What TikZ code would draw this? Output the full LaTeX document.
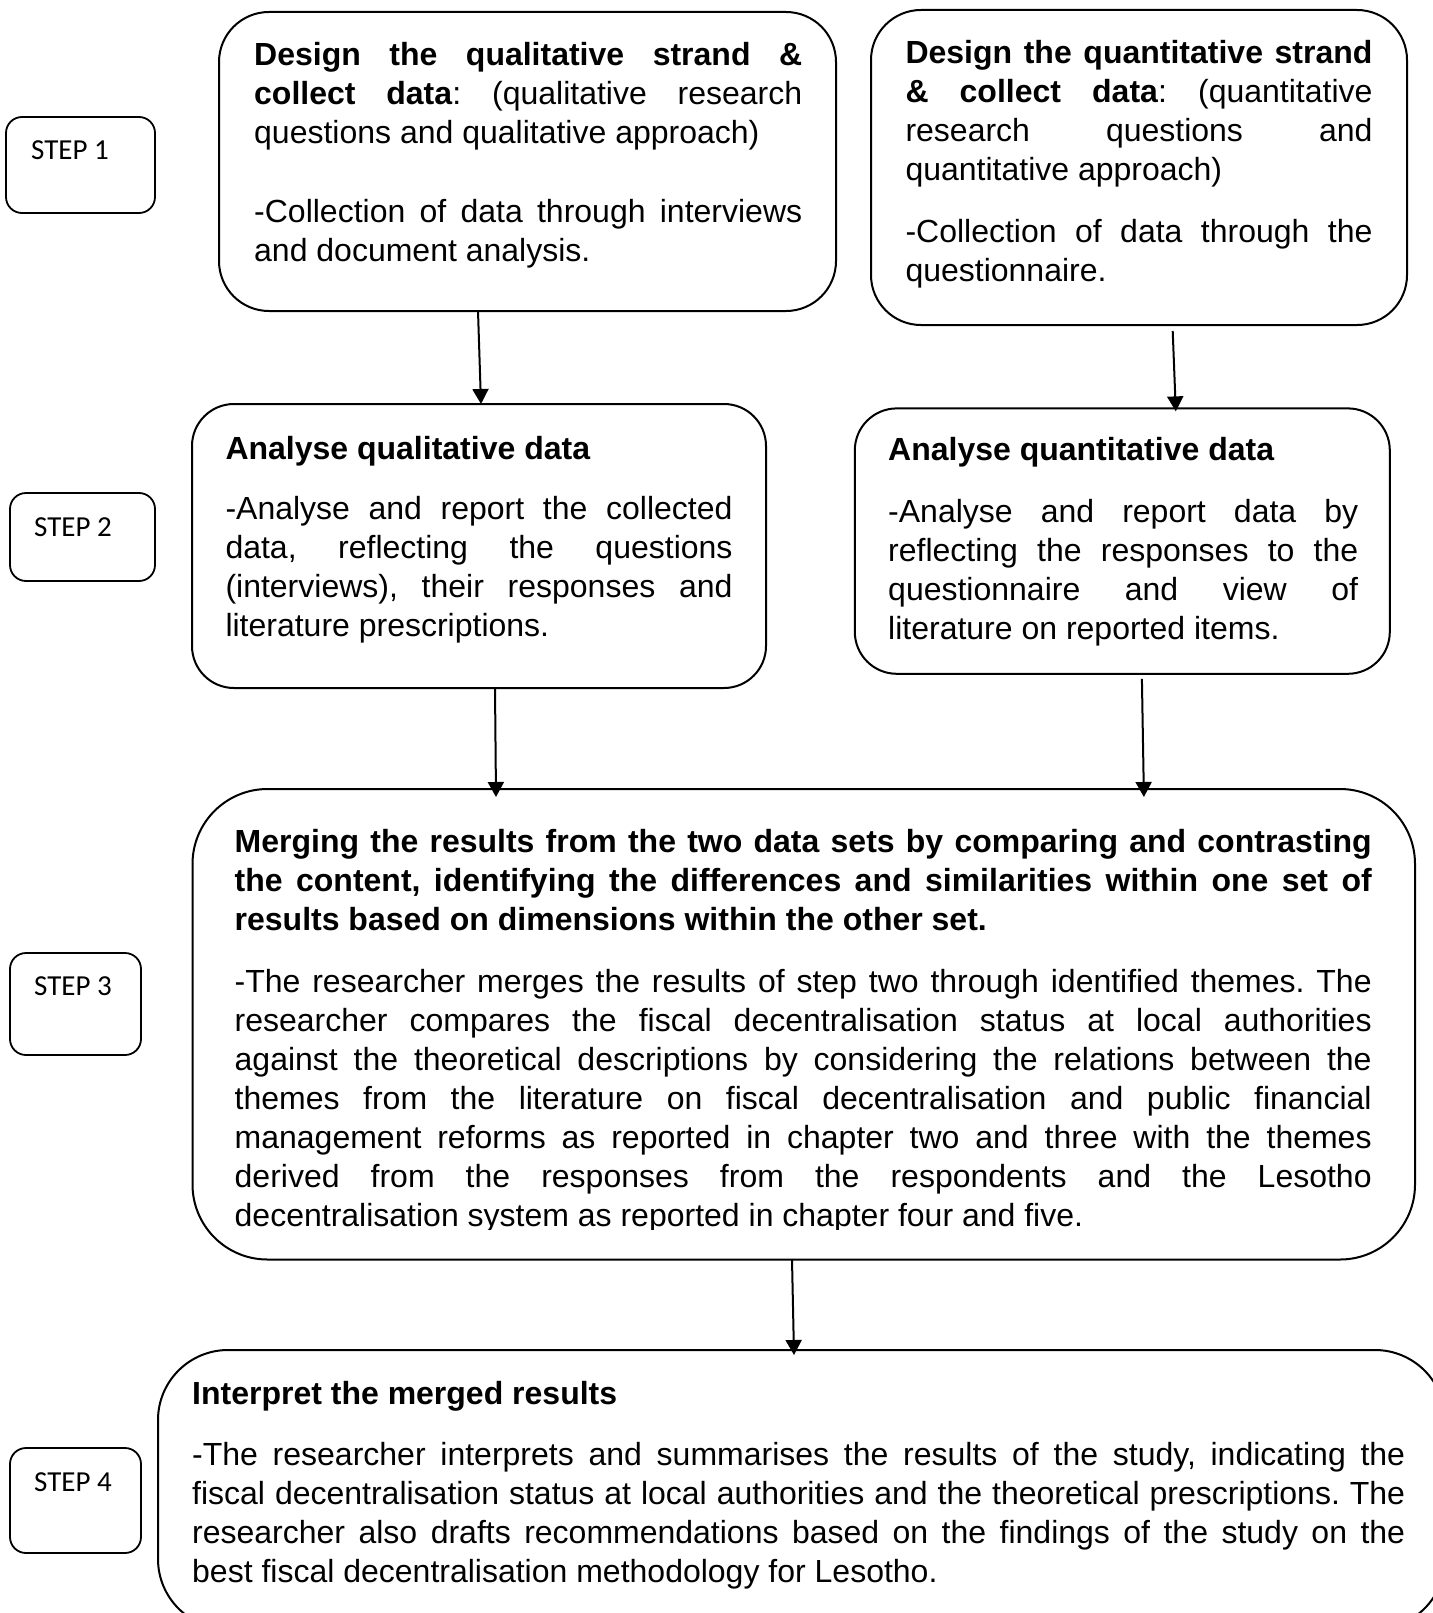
\documentclass[tikz,border=0pt]{standalone}
\usepackage{fontspec}
\setmainfont{Liberation Sans}
\newfontfamily\stepfont{Carlito}
\usetikzlibrary{arrows.meta}
\frenchspacing
\newcommand\bodyfont{\fontsize{32}{39}\selectfont\frenchspacing\tolerance=10000\pretolerance=10000\hyphenpenalty=10000\exhyphenpenalty=10000}
\begin{document}
\begin{tikzpicture}[x=1pt,y=-1pt,
  mainbox/.style={draw, line width=2pt, rounded corners=#1, inner sep=0pt, outer sep=0pt},
  stepbox/.style={draw, line width=1.8pt, rounded corners=16pt, inner sep=0pt, outer sep=0pt},
  txt/.style={anchor=base west, inner sep=0pt, align=justify, font=\bodyfont},
  steptxt/.style={anchor=base west, inner sep=0pt, font=\stepfont\fontsize{29}{35}\selectfont},
  arr/.style={line width=2pt, -{Triangle[width=16pt,length=15pt]}}]
\useasboundingbox (0,0) rectangle (1432,1613);

% step boxes
\node[stepbox, minimum width=149pt, minimum height=96pt] (s1) at (80.5,165) {};
\node[stepbox, minimum width=145pt, minimum height=88pt] (s2) at (82.5,537) {};
\node[stepbox, minimum width=131pt, minimum height=102pt] (s3) at (75.5,1004) {};
\node[stepbox, minimum width=131pt, minimum height=105pt] (s4) at (75.5,1500.5) {};
\node[steptxt] (s1t) at (31,160) {STEP 1};
\node[steptxt] (s2t) at (34,536) {STEP 2};
\node[steptxt] (s3t) at (34,995) {STEP 3};
\node[steptxt] (s4t) at (34,1491) {STEP 4};

% main boxes
\node[mainbox=50pt, minimum width=617pt, minimum height=299pt] (b1) at (527.5,161.5) {};
\node[mainbox=50pt, minimum width=536pt, minimum height=315pt] (b2) at (1139,167.5) {};
\node[mainbox=42pt, minimum width=574pt, minimum height=284pt] (b3) at (479,546) {};
\node[mainbox=42pt, minimum width=535pt, minimum height=265.4pt] (b4) at (1122.3,541.1) {};
\node[mainbox=75pt, minimum width=1222.5pt, minimum height=470.5pt] (b5) at (803.75,1024.25) {};
\node[mainbox=70pt, minimum width=1287pt, minimum height=279pt] (b6) at (801.5,1489.5) {};

% texts
\node[txt, text width=548pt] (t1) at (254,66) {\textbf{Design the qualitative strand \&\linebreak collect data}: (qualitative research\linebreak questions and qualitative approach)\par\vspace{40pt}-Collection of data through interviews\linebreak and document analysis.};

\node[txt, text width=467pt] (t2) at (905.3,64) {\textbf{Design the quantitative strand\linebreak \& collect data}: (quantitative\linebreak research questions and\linebreak quantitative approach)\par\vspace{23pt}-Collection of data through the\linebreak questionnaire.};

\node[txt, text width=507pt] (t3) at (225.3,459) {\textbf{Analyse qualitative data}\par\vspace{21pt}-Analyse and report the collected\linebreak data, reflecting the questions\linebreak (interviews), their responses and\linebreak literature prescriptions.};

\node[txt, text width=470pt] (t4) at (888,460) {\textbf{Analyse quantitative data}\par\vspace{23pt}-Analyse and report data by\linebreak reflecting the responses to the\linebreak questionnaire and view of\linebreak literature on reported items.};

\begin{scope}
\clip (150,780) rectangle (1420,1229);
\node[txt, text width=1137pt] (t5) at (234.5,852) {\textbf{Merging the results from the two data sets by comparing and contrasting\linebreak the content, identifying the differences and similarities within one set of\linebreak results based on dimensions within the other set.}\par\vspace{23pt}-The researcher merges the results of step two through identified themes. The\linebreak researcher compares the fiscal decentralisation status at local authorities\linebreak against the theoretical descriptions by considering the relations between the\linebreak themes from the literature on fiscal decentralisation and public financial\linebreak management reforms as reported in chapter two and three with the themes\linebreak derived from the responses from the respondents and the Lesotho\linebreak decentralisation system as reported in chapter four and five.};
\end{scope}

\node[txt, text width=1213pt] (t6) at (192,1404) {\textbf{Interpret the merged results}\par\vspace{22.5pt}-The researcher interprets and summarises the results of the study, indicating the\linebreak fiscal decentralisation status at local authorities and the theoretical prescriptions. The\linebreak researcher also drafts recommendations based on the findings of the study on the\linebreak best fiscal decentralisation methodology for Lesotho.};

% arrows
\draw[arr] ([xshift=-49.5pt]b1.south) -- ([xshift=2pt]b3.north);
\draw[arr] ([xshift=33.7pt,yshift=-6pt]b2.south) -- ([xshift=53.5pt,yshift=-3pt]b4.north);
\draw[arr] ([xshift=16pt]b3.south) -- ([xshift=-307.75pt,yshift=-8pt]b5.north);
\draw[arr] ([xshift=19.6pt,yshift=-5pt]b4.south) -- ([xshift=340.15pt,yshift=-8pt]b5.north);
\draw[arr] ([xshift=-11.75pt]b5.south) -- ([xshift=-7.5pt,yshift=-5pt]b6.north);
\end{tikzpicture}
\end{document}
